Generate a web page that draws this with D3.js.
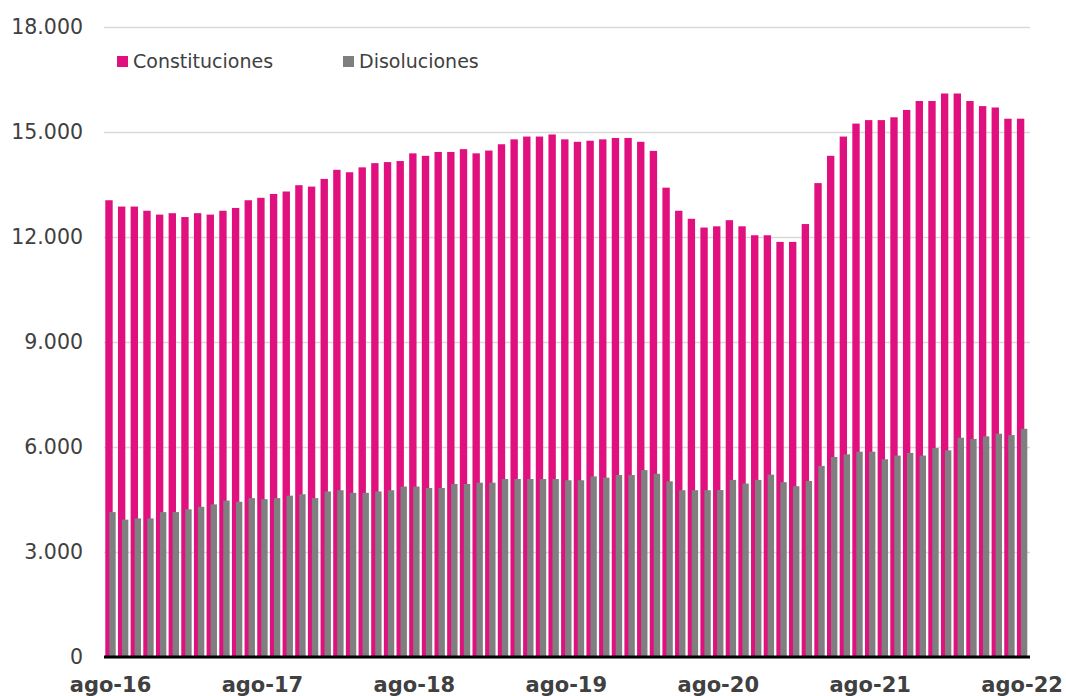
<!DOCTYPE html>
<html>
<head>
<meta charset="utf-8">
<script src="https://cdn.jsdelivr.net/npm/d3@7"></script>
<style>
  html, body { margin: 0; padding: 0; background: #ffffff; }
  svg { display: block; }
  text { font-family: "DejaVu Sans", Verdana, sans-serif; }
</style>
</head>
<body>
<svg id="chart" width="1066" height="696"></svg>
<script>
// ---- data ----
const months = [
  "ago-16","sep-16","oct-16","nov-16","dic-16",
  "ene-17","feb-17","mar-17","abr-17","may-17","jun-17","jul-17","ago-17","sep-17","oct-17","nov-17","dic-17",
  "ene-18","feb-18","mar-18","abr-18","may-18","jun-18","jul-18","ago-18","sep-18","oct-18","nov-18","dic-18",
  "ene-19","feb-19","mar-19","abr-19","may-19","jun-19","jul-19","ago-19","sep-19","oct-19","nov-19","dic-19",
  "ene-20","feb-20","mar-20","abr-20","may-20","jun-20","jul-20","ago-20","sep-20","oct-20","nov-20","dic-20",
  "ene-21","feb-21","mar-21","abr-21","may-21","jun-21","jul-21","ago-21","sep-21","oct-21","nov-21","dic-21",
  "ene-22","feb-22","mar-22","abr-22","may-22","jun-22","jul-22","ago-22"
];
const constituciones = [
  13050,12870,12870,12750,12640,12680,12570,12680,12640,12750,12830,13050,
  13120,13230,13300,13480,13440,13660,13920,13850,13990,14110,14140,14170,
  14390,14320,14430,14430,14510,14390,14470,14650,14790,14870,14870,14930,
  14790,14720,14750,14790,14830,14830,14720,14460,13410,12750,12520,12270,
  12305,12480,12305,12050,12050,11860,11860,12370,13540,14320,14870,15240,
  15340,15340,15420,15630,15885,15885,16100,16100,15885,15740,15700,15380,
  15380
];
const disoluciones = [
  4140,3925,3960,3960,4140,4140,4220,4290,4360,4470,4435,4540,
  4510,4540,4610,4650,4540,4730,4765,4690,4690,4730,4765,4870,
  4870,4830,4830,4945,4945,4980,4980,5085,5085,5085,5085,5085,
  5050,5050,5160,5125,5200,5200,5340,5235,5020,4765,4765,4765,
  4770,5060,4955,5060,5210,4995,4880,5030,5460,5715,5790,5865,
  5865,5650,5755,5830,5755,5970,5905,6265,6230,6305,6380,6340,
  6520
];
const yTicks = [0, 3000, 6000, 9000, 12000, 15000, 18000];
const seriesNames = ["Constituciones", "Disoluciones"];
const seriesColors = ["#E0107E", "#7F7F7F"];

// ---- layout ----
const svg = d3.select("#chart");
const plotLeft = 104, plotRight = 1030, plotTop = 27, plotBottom = 657;

const x = d3.scaleBand()
  .domain(months)
  .range([105.3, 1027.3])
  .paddingInner(0.18)
  .paddingOuter(0);

const y = d3.scaleLinear().domain([0, 18000]).range([plotBottom, plotTop]);

const locale = d3.formatLocale({decimal: ",", thousands: ".", grouping: [3], currency: ["", "€"]});
const fmt = locale.format(",");

// gridlines + y labels
const yAxis = svg.append("g")
  .attr("transform", `translate(${plotLeft},0)`)
  .call(d3.axisLeft(y).tickValues(yTicks).tickFormat(fmt)
    .tickSize(-(plotRight - plotLeft)).tickPadding(21));
yAxis.select(".domain").remove();
yAxis.selectAll(".tick line").attr("stroke", "#D9D9D9").attr("stroke-width", 1.3);
yAxis.selectAll(".tick text")
  .attr("fill", "#404040")
  .style("font-size", "20.5px");

// bars
const bw = x.bandwidth();
const pinkW = bw * 0.71;
const grayOff = bw * 0.385;
const grayW = bw - grayOff;

svg.append("g").selectAll("rect")
  .data(months)
  .join("rect")
  .attr("x", d => x(d))
  .attr("width", pinkW)
  .attr("y", (d, i) => y(constituciones[i]))
  .attr("height", (d, i) => y(0) - y(constituciones[i]))
  .attr("fill", seriesColors[0]);

svg.append("g").selectAll("rect")
  .data(months)
  .join("rect")
  .attr("x", d => x(d) + grayOff)
  .attr("width", grayW)
  .attr("y", (d, i) => y(disoluciones[i]))
  .attr("height", (d, i) => y(0) - y(disoluciones[i]))
  .attr("fill", seriesColors[1]);

// x axis line
svg.append("line")
  .attr("x1", plotLeft).attr("x2", plotRight)
  .attr("y1", y(0)).attr("y2", y(0))
  .attr("stroke", "#000").attr("stroke-width", 3);

// x labels
const xAxis = svg.append("g")
  .attr("transform", `translate(0,${plotBottom})`)
  .call(d3.axisBottom(x)
    .tickValues(months.filter(m => m.startsWith("ago")))
    .tickSize(0).tickPadding(20));
xAxis.select(".domain").remove();
xAxis.selectAll(".tick text")
  .attr("fill", "#404040")
  .style("font-size", "21px")
  .style("font-weight", "bold");

// legend
const legendX = [117, 343];
const lg = svg.append("g");
seriesNames.forEach((name, i) => {
  lg.append("rect")
    .attr("x", legendX[i]).attr("y", 56)
    .attr("width", 11).attr("height", 11)
    .attr("fill", seriesColors[i]);
  lg.append("text")
    .attr("x", legendX[i] + 16).attr("y", 61.5)
    .attr("dy", "0.36em")
    .attr("fill", "#404040")
    .style("font-size", "19px")
    .text(name);
});
</script>
</body>
</html>
